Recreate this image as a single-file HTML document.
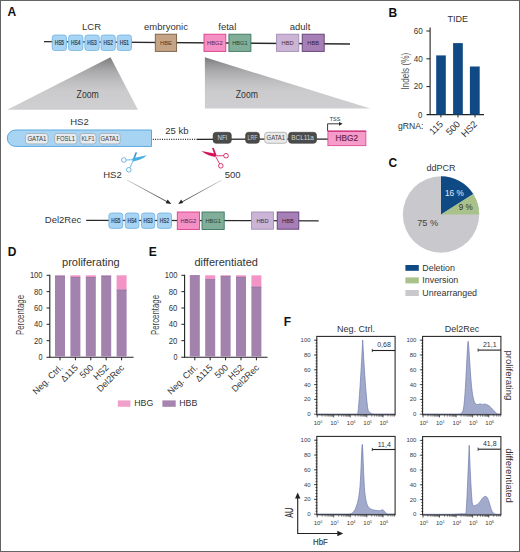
<!DOCTYPE html>
<html><head><meta charset="utf-8">
<style>
html,body{margin:0;padding:0;background:#fff;}
body{width:520px;height:552px;overflow:hidden;}
#fig{position:relative;width:520px;height:552px;background:#fff;}
svg{position:absolute;left:0;top:0;}
text{font-family:"Liberation Sans",sans-serif;fill:#333;}
.lbl{font-weight:bold;font-size:12px;fill:#111;}
.hs{font-size:6.5px;fill:#1c3250;text-anchor:middle;stroke:#1c3250;stroke-width:0.18px;}
.gn{font-size:6.2px;text-anchor:middle;}
.t9{font-size:9.5px;}
.ax{font-size:8.5px;fill:#333;}
.fx{font-size:6px;fill:#3a3a3a;}
</style></head>
<body><div id="fig">
<svg width="520" height="552" viewBox="0 0 520 552">
<defs>
<linearGradient id="tri" x1="0" y1="0" x2="0" y2="1">
<stop offset="0" stop-color="#79797c"/><stop offset="0.1" stop-color="#8f8f92"/><stop offset="0.25" stop-color="#a8a8aa"/><stop offset="0.45" stop-color="#bdbdbf"/><stop offset="0.65" stop-color="#cbcbcd"/><stop offset="1" stop-color="#cfcfd1"/>
</linearGradient>
<linearGradient id="arrL" gradientUnits="userSpaceOnUse" x1="127" y1="180" x2="171" y2="204">
<stop offset="0" stop-color="#d0d0d0"/><stop offset="1" stop-color="#222"/>
</linearGradient>
<linearGradient id="arrR" gradientUnits="userSpaceOnUse" x1="221" y1="180" x2="178" y2="204">
<stop offset="0" stop-color="#d0d0d0"/><stop offset="1" stop-color="#222"/>
</linearGradient>
</defs>

<rect x="0.5" y="0.5" width="519" height="551" fill="none" stroke="#646464" stroke-width="1"/>
<!-- ================= PANEL A ================= -->
<text class="lbl" x="7.5" y="16.2">A</text>
<text class="t9" x="91.5" y="30" text-anchor="middle">LCR</text>
<text class="t9" x="166" y="30" text-anchor="middle">embryonic</text>
<text class="t9" x="227.3" y="30" text-anchor="middle">fetal</text>
<text class="t9" x="300" y="30" text-anchor="middle">adult</text>

<line x1="44" y1="41.6" x2="350" y2="44" stroke="#2a2a2a" stroke-width="1.4"/>
<g stroke="#70b2e2" stroke-width="0.8" fill="#a8d4f4">
<rect x="52.2" y="35" width="14.3" height="15.5" rx="2.5"/>
<rect x="68.6" y="35" width="14.3" height="15.5" rx="2.5"/>
<rect x="84.9" y="35" width="14.3" height="15.5" rx="2.5"/>
<rect x="101" y="35" width="14.3" height="15.5" rx="2.5"/>
<rect x="117.2" y="35" width="14.3" height="15.5" rx="2.5"/>
</g>
<g class="hs">
<text x="59.35" y="45.1" textLength="9.4" lengthAdjust="spacingAndGlyphs">HS5</text><text x="75.75" y="45.1" textLength="9.4" lengthAdjust="spacingAndGlyphs">HS4</text><text x="92.05" y="45.1" textLength="9.4" lengthAdjust="spacingAndGlyphs">HS3</text><text x="108.15" y="45.1" textLength="9.4" lengthAdjust="spacingAndGlyphs">HS2</text><text x="124.35" y="45.1" textLength="9.4" lengthAdjust="spacingAndGlyphs">HS1</text>
</g>
<rect x="155.3" y="34.2" width="21.3" height="17.2" fill="#c5a485" stroke="#7a5d42" stroke-width="0.9"/>
<text class="gn" x="166" y="44.7" style="fill:#4e3b28" textLength="11.8" lengthAdjust="spacingAndGlyphs">HBE</text>
<rect x="204" y="34.2" width="21.8" height="17.2" fill="#f590c4" stroke="#dc3d8a" stroke-width="0.9"/>
<text class="gn" x="214.9" y="44.7" style="fill:#5e2149" textLength="15.6" lengthAdjust="spacingAndGlyphs">HBG2</text>
<rect x="228.9" y="34.2" width="22" height="17.2" fill="#80ae99" stroke="#3d7760" stroke-width="0.9"/>
<text class="gn" x="239.9" y="44.7" style="fill:#263f35" textLength="15.4" lengthAdjust="spacingAndGlyphs">HBG1</text>
<rect x="276.6" y="34.2" width="22.2" height="17.2" fill="#cbb4d6" stroke="#a38db2" stroke-width="0.9"/>
<text class="gn" x="287.7" y="44.7" style="fill:#3f3448" textLength="12.2" lengthAdjust="spacingAndGlyphs">HBD</text>
<rect x="302.2" y="34.2" width="22" height="17.2" fill="#a57fb6" stroke="#5f3d72" stroke-width="0.9"/>
<text class="gn" x="313.2" y="44.7" style="fill:#35203f" textLength="11.8" lengthAdjust="spacingAndGlyphs">HBB</text>

<!-- zoom triangles -->
<polygon points="110.5,57.2 7.2,109.7 137.9,109.7" fill="url(#tri)"/>
<text x="87.7" y="98" text-anchor="middle" style="font-size:10.2px" textLength="22.2" lengthAdjust="spacingAndGlyphs">Zoom</text>
<polygon points="204.9,57.3 204.9,108.6 370.4,108.6" fill="url(#tri)"/>
<text x="246.9" y="98.4" text-anchor="middle" style="font-size:10.2px" textLength="22.2" lengthAdjust="spacingAndGlyphs">Zoom</text>

<!-- HS2 zoom row -->
<text class="t9" x="79.5" y="125" text-anchor="middle">HS2</text>
<path d="M15.5,130 H151.5 V146.4 H15.5 A8.2,8.2 0 0 1 15.5,130 Z" fill="#a8d4f4" stroke="#5ba7de" stroke-width="1"/>
<g fill="#e6ecf1" stroke="#9aa3ab" stroke-width="0.7">
<rect x="25.4" y="133.5" width="22.6" height="10.4" rx="2.6"/>
<rect x="54.6" y="133.5" width="22.3" height="10.4" rx="2.6"/>
<rect x="80" y="133.5" width="16" height="10.4" rx="2.6"/>
<rect x="99.4" y="133.5" width="20.8" height="10.4" rx="2.6"/>
</g>
<g class="gn">
<text x="36.9" y="140.8" style="font-size:6.3px;fill:#3c3c3c" textLength="19" lengthAdjust="spacingAndGlyphs">GATA1</text><text x="65.75" y="140.8" style="font-size:6.3px;fill:#3c3c3c" textLength="18.6" lengthAdjust="spacingAndGlyphs">FOSL1</text><text x="88" y="140.8" style="font-size:6.3px;fill:#3c3c3c" textLength="13" lengthAdjust="spacingAndGlyphs">KLF1</text><text x="109.8" y="140.8" style="font-size:6.3px;fill:#3c3c3c" textLength="18.6" lengthAdjust="spacingAndGlyphs">GATA1</text>
</g>
<text class="t9" x="176.8" y="134.4" text-anchor="middle">25 kb</text>
<line x1="152.8" y1="139.4" x2="196.7" y2="139.4" stroke="#2a2a2a" stroke-width="1.1" stroke-dasharray="1,1.3"/>
<line x1="196.7" y1="139.3" x2="328" y2="139.1" stroke="#222" stroke-width="1.2"/>
<g fill="#4b4b4b" stroke="#3a3a3a" stroke-width="0.6">
<rect x="213.1" y="132.3" width="18.2" height="11" rx="3"/>
<rect x="245.6" y="132.3" width="13.8" height="11" rx="3"/>
<rect x="288.5" y="132.3" width="28" height="11" rx="3"/>
</g>
<rect x="264.6" y="132.3" width="22.5" height="11" rx="3" fill="#e9e9e9" stroke="#a0a0a0" stroke-width="0.7"/>
<g class="gn">
<text x="222.4" y="140.2" style="font-size:6.3px;fill:#d8d8d8" textLength="9.8" lengthAdjust="spacingAndGlyphs">NFI</text><text x="252.5" y="140.2" style="font-size:6.3px;fill:#d8d8d8" textLength="9.8" lengthAdjust="spacingAndGlyphs">LRF</text><text x="302.6" y="140.2" style="font-size:6.3px;fill:#d8d8d8" textLength="22.6" lengthAdjust="spacingAndGlyphs">BCL11a</text>
</g>
<text class="gn" x="275.85" y="140.2" style="font-size:6.3px;fill:#444" textLength="18.6" lengthAdjust="spacingAndGlyphs">GATA1</text>
<!-- TSS -->
<text x="335" y="121.4" text-anchor="middle" style="font-size:5.5px;fill:#333">TSS</text>
<path d="M327.6,131 V123.8 H339.5" fill="none" stroke="#222" stroke-width="0.9"/>
<polygon points="339,121.9 342.6,123.8 339,125.7" fill="#222"/>
<rect x="327.9" y="131" width="38" height="14.7" fill="#f59ccb" stroke="#d9408c" stroke-width="0.8"/>
<line x1="327.9" y1="131.2" x2="365.9" y2="131.2" stroke="#c8206f" stroke-width="1"/>
<text x="346.8" y="140.7" text-anchor="middle" style="font-size:8.6px;fill:#6d2450;stroke:#6d2450;stroke-width:0.2px" textLength="22.4" lengthAdjust="spacingAndGlyphs">HBG2</text>

<!-- scissors blue -->
<g fill="none" stroke="#4aa6d6" stroke-width="0.8">
<circle cx="123.8" cy="160" r="2.3"/>
<circle cx="128.8" cy="169.8" r="2.3"/>
<path d="M126.1,160 L132.6,159.7"/>
<path d="M129.9,167.7 L133.2,160.6"/>
</g>
<path d="M132.6,160 L135.4,152.5 Q136.2,152 137,152.7 L134.2,160.3 Z" fill="#3b98cc"/>
<path d="M132.3,158.6 L134,157.9 L146.9,155.3 C143.5,158.6 138.5,160.6 132.8,161.4 Z" fill="#43aee4"/>
<text class="t9" x="112.5" y="178.4" text-anchor="middle">HS2</text>
<!-- scissors red -->
<g fill="none" stroke="#d3155b" stroke-width="0.85">
<circle cx="226" cy="155.7" r="2.3"/>
<circle cx="220.8" cy="165.8" r="2.3"/>
<path d="M216.2,155.8 L223.7,155.7"/>
<path d="M215.8,156.9 L219.6,163.7"/>
</g>
<path d="M201.3,151.1 L214.6,153.4 L216,155.4 L215.3,157 C211,156.6 206.5,155 201.3,151.1 Z" fill="#d3155b"/>
<path d="M212,148.3 Q212.8,147.4 213.8,148 L216.6,155.6 L215,156.3 Z" fill="#d3155b"/>
<text class="t9" x="232.6" y="178" text-anchor="middle">500</text>
<!-- arrows -->
<line x1="127" y1="180" x2="168.5" y2="202.5" stroke="url(#arrL)" stroke-width="0.9"/>
<polygon points="171.4,204 165.7,203.2 167.6,199.6" fill="#222"/>
<line x1="221.5" y1="180.2" x2="181" y2="202.5" stroke="url(#arrR)" stroke-width="0.9"/>
<polygon points="178.2,204 181.2,199.4 183.1,203" fill="#222"/>

<!-- Del2Rec -->
<text class="t9" x="63" y="223.4" text-anchor="middle">Del2Rec</text>
<line x1="86.2" y1="220.3" x2="318.7" y2="220.8" stroke="#2a2a2a" stroke-width="1.3"/>
<g stroke="#70b2e2" stroke-width="0.8" fill="#a8d4f4">
<rect x="108.9" y="213" width="13.9" height="15.4" rx="2.5"/>
<rect x="125.3" y="213" width="13.6" height="15.4" rx="2.5"/>
<rect x="141.5" y="213" width="13.3" height="15.4" rx="2.5"/>
<rect x="157.4" y="213" width="14.1" height="15.4" rx="2.5"/>
</g>
<g class="hs">
<text x="115.85" y="223.1" textLength="9.2" lengthAdjust="spacingAndGlyphs">HS5</text><text x="132.1" y="223.1" textLength="9.2" lengthAdjust="spacingAndGlyphs">HS4</text><text x="148.15" y="223.1" textLength="9.2" lengthAdjust="spacingAndGlyphs">HS3</text><text x="164.45" y="223.1" textLength="9.2" lengthAdjust="spacingAndGlyphs">HS2</text>
</g>
<rect x="177.3" y="212" width="22.2" height="17.5" fill="#f590c4" stroke="#dc3d8a" stroke-width="0.9"/>
<text class="gn" x="188.4" y="222.7" style="fill:#5e2149" textLength="15.6" lengthAdjust="spacingAndGlyphs">HBG2</text>
<rect x="202" y="212" width="22.2" height="17.5" fill="#80ae99" stroke="#3d7760" stroke-width="0.9"/>
<text class="gn" x="213.1" y="222.7" style="fill:#263f35" textLength="15.4" lengthAdjust="spacingAndGlyphs">HBG1</text>
<rect x="251.6" y="212" width="21.8" height="17.2" fill="#cbb4d6" stroke="#a38db2" stroke-width="0.9"/>
<text class="gn" x="262.5" y="222.7" style="fill:#3f3448" textLength="12.2" lengthAdjust="spacingAndGlyphs">HBD</text>
<rect x="277.2" y="212" width="21.6" height="17.2" fill="#a57fb6" stroke="#5f3d72" stroke-width="0.9"/>
<text class="gn" x="288" y="222.7" style="fill:#35203f" textLength="11.8" lengthAdjust="spacingAndGlyphs">HBB</text>

<!-- ================= PANEL B ================= -->
<text class="lbl" x="388.4" y="17">B</text>
<text x="457.8" y="22.3" text-anchor="middle" style="font-size:9px">TIDE</text>
<line x1="430.1" y1="27.6" x2="430.1" y2="115" stroke="#222" stroke-width="1.1"/>
<line x1="426.6" y1="114.6" x2="484" y2="114.6" stroke="#222" stroke-width="1.1"/>
<g stroke="#222" stroke-width="1">
<line x1="426.4" y1="31" x2="430" y2="31"/><line x1="426.4" y1="58.8" x2="430" y2="58.8"/><line x1="426.4" y1="86.6" x2="430" y2="86.6"/>
<line x1="440.9" y1="114.6" x2="440.9" y2="117.4"/><line x1="458" y1="114.6" x2="458" y2="117.4"/><line x1="475" y1="114.6" x2="475" y2="117.4"/>
</g>
<g class="ax" text-anchor="end" style="font-size:9.6px">
<text x="422.8" y="33.8" textLength="9" lengthAdjust="spacingAndGlyphs">60</text><text x="422.8" y="61.6" textLength="9" lengthAdjust="spacingAndGlyphs">40</text><text x="422.8" y="89.4" textLength="9" lengthAdjust="spacingAndGlyphs">20</text><text x="422.5" y="117.9" textLength="4.4" lengthAdjust="spacingAndGlyphs">0</text>
</g>
<g fill="#0f4a84">
<rect x="436.2" y="55.4" width="9.6" height="59.2"/>
<rect x="453.1" y="43.1" width="9.7" height="71.5"/>
<rect x="469.9" y="66.5" width="9.8" height="48.1"/>
</g>
<text transform="translate(408.6,71.2) rotate(-90)" text-anchor="middle" style="font-size:10.4px;fill:#555" textLength="37" lengthAdjust="spacingAndGlyphs">Indels (%)</text>
<text class="ax" x="398" y="128.8" style="font-size:8.6px">gRNA:</text>
<g class="ax" text-anchor="end" style="font-size:9.4px">
<text transform="translate(443.6,124.8) rotate(-45)">115</text>
<text transform="translate(460.8,124.8) rotate(-45)">500</text>
<text transform="translate(477.8,124.8) rotate(-45)">HS2</text>
</g>

<!-- ================= PANEL C ================= -->
<text class="lbl" x="388.5" y="166.7">C</text>
<text x="441" y="170.9" text-anchor="middle" style="font-size:9px">ddPCR</text>
<circle cx="441" cy="214.5" r="38.2" fill="#c9c8cd"/>
<path d="M441,214.5 V176.3 A38.2,38.2 0 0 1 473.3,194.1 Z" fill="#0f4a84"/>
<path d="M441,214.5 L473.3,194.1 A38.2,38.2 0 0 1 479.2,214.5 Z" fill="#a9c28b"/>
<text x="454.4" y="195.8" text-anchor="middle" style="font-size:9.4px;fill:#e6edf5" textLength="18.8" lengthAdjust="spacingAndGlyphs">16 %</text>
<text x="465.7" y="209.6" text-anchor="middle" style="font-size:9.2px;fill:#35331c" textLength="13.9" lengthAdjust="spacingAndGlyphs">9 %</text>
<text x="427.7" y="225.7" text-anchor="middle" style="font-size:9.2px;fill:#444">75 %</text>
<rect x="405.4" y="265" width="13.4" height="5.8" fill="#0f4a84"/>
<rect x="405.4" y="277.4" width="13.4" height="6" fill="#a9c28b"/>
<rect x="405.4" y="290" width="13.4" height="6" fill="#c9c8cd"/>
<g style="font-size:8.9px">
<text x="422.3" y="270.5">Deletion</text>
<text x="422.3" y="283.2">Inversion</text>
<text x="422.3" y="295.8">Unrearranged</text>
</g>

<!-- ================= PANEL D/E ================= -->
<g id="DE">
<text class="lbl" x="7.8" y="255.6">D</text>
<text x="62.0" y="266" style="font-size:10.6px" textLength="57.7" lengthAdjust="spacingAndGlyphs">proliferating</text>
<line x1="49.80" y1="274.8" x2="49.80" y2="357.6" stroke="#222" stroke-width="1.1"/>
<line x1="46.50" y1="357.2" x2="133.60" y2="357.2" stroke="#222" stroke-width="1.1"/>
<line x1="46.60" y1="275.30" x2="49.80" y2="275.30" stroke="#222" stroke-width="1"/>
<line x1="46.60" y1="291.64" x2="49.80" y2="291.64" stroke="#222" stroke-width="1"/>
<line x1="46.60" y1="307.98" x2="49.80" y2="307.98" stroke="#222" stroke-width="1"/>
<line x1="46.60" y1="324.32" x2="49.80" y2="324.32" stroke="#222" stroke-width="1"/>
<line x1="46.60" y1="340.66" x2="49.80" y2="340.66" stroke="#222" stroke-width="1"/>
<text x="42.60" y="278.40" text-anchor="end" style="font-size:8.8px;fill:#333" textLength="12.7" lengthAdjust="spacingAndGlyphs">100</text>
<text x="42.60" y="294.74" text-anchor="end" style="font-size:8.8px;fill:#333" textLength="8.6" lengthAdjust="spacingAndGlyphs">80</text>
<text x="42.60" y="311.08" text-anchor="end" style="font-size:8.8px;fill:#333" textLength="8.6" lengthAdjust="spacingAndGlyphs">60</text>
<text x="42.60" y="327.42" text-anchor="end" style="font-size:8.8px;fill:#333" textLength="8.6" lengthAdjust="spacingAndGlyphs">40</text>
<text x="42.60" y="343.76" text-anchor="end" style="font-size:8.8px;fill:#333" textLength="8.6" lengthAdjust="spacingAndGlyphs">20</text>
<text x="42.60" y="360.10" text-anchor="end" style="font-size:8.8px;fill:#333" textLength="4.0" lengthAdjust="spacingAndGlyphs">0</text>
<line x1="60.00" y1="357.2" x2="60.00" y2="360.3" stroke="#222" stroke-width="1"/>
<rect x="55.00" y="275.30" width="10" height="0.49" fill="#f394c6"/>
<rect x="55.00" y="275.79" width="10" height="80.81" fill="#a482ae"/>
<line x1="55.00" y1="276.09" x2="65.00" y2="276.09" stroke="#8e6c9a" stroke-width="0.6"/>
<text transform="translate(63.20,368.2) rotate(-45)" text-anchor="end" style="font-size:9px;fill:#333">Neg. Ctrl.</text>
<line x1="75.40" y1="357.2" x2="75.40" y2="360.3" stroke="#222" stroke-width="1"/>
<rect x="70.40" y="275.30" width="10" height="1.80" fill="#f394c6"/>
<rect x="70.40" y="277.10" width="10" height="79.50" fill="#a482ae"/>
<line x1="70.40" y1="277.40" x2="80.40" y2="277.40" stroke="#8e6c9a" stroke-width="0.6"/>
<text transform="translate(78.60,368.2) rotate(-45)" text-anchor="end" style="font-size:9px;fill:#333">Δ115</text>
<line x1="90.80" y1="357.2" x2="90.80" y2="360.3" stroke="#222" stroke-width="1"/>
<rect x="85.80" y="275.30" width="10" height="1.80" fill="#f394c6"/>
<rect x="85.80" y="277.10" width="10" height="79.50" fill="#a482ae"/>
<line x1="85.80" y1="277.40" x2="95.80" y2="277.40" stroke="#8e6c9a" stroke-width="0.6"/>
<text transform="translate(94.00,368.2) rotate(-45)" text-anchor="end" style="font-size:9px;fill:#333">500</text>
<line x1="106.20" y1="357.2" x2="106.20" y2="360.3" stroke="#222" stroke-width="1"/>
<rect x="101.20" y="275.30" width="10" height="0.49" fill="#f394c6"/>
<rect x="101.20" y="275.79" width="10" height="80.81" fill="#a482ae"/>
<line x1="101.20" y1="276.09" x2="111.20" y2="276.09" stroke="#8e6c9a" stroke-width="0.6"/>
<text transform="translate(109.40,368.2) rotate(-45)" text-anchor="end" style="font-size:9px;fill:#333">HS2</text>
<line x1="121.60" y1="357.2" x2="121.60" y2="360.3" stroke="#222" stroke-width="1"/>
<rect x="116.60" y="275.30" width="10" height="14.38" fill="#f394c6"/>
<rect x="116.60" y="289.68" width="10" height="66.92" fill="#a482ae"/>
<line x1="116.60" y1="289.98" x2="126.60" y2="289.98" stroke="#8e6c9a" stroke-width="0.6"/>
<text transform="translate(124.80,368.2) rotate(-45)" text-anchor="end" style="font-size:9px;fill:#333">Del2Rec</text>
<text transform="translate(23.60,315) rotate(-90)" text-anchor="middle" style="font-size:10.6px;fill:#444" textLength="40" lengthAdjust="spacingAndGlyphs">Percentage</text>
<text class="lbl" x="148.8" y="255.6">E</text>
<text x="194.4" y="266" style="font-size:10.6px" textLength="63.5" lengthAdjust="spacingAndGlyphs">differentiated</text>
<line x1="184.60" y1="274.8" x2="184.60" y2="357.6" stroke="#222" stroke-width="1.1"/>
<line x1="181.30" y1="357.2" x2="267.50" y2="357.2" stroke="#222" stroke-width="1.1"/>
<line x1="181.40" y1="275.30" x2="184.60" y2="275.30" stroke="#222" stroke-width="1"/>
<line x1="181.40" y1="291.64" x2="184.60" y2="291.64" stroke="#222" stroke-width="1"/>
<line x1="181.40" y1="307.98" x2="184.60" y2="307.98" stroke="#222" stroke-width="1"/>
<line x1="181.40" y1="324.32" x2="184.60" y2="324.32" stroke="#222" stroke-width="1"/>
<line x1="181.40" y1="340.66" x2="184.60" y2="340.66" stroke="#222" stroke-width="1"/>
<text x="177.40" y="278.40" text-anchor="end" style="font-size:8.8px;fill:#333" textLength="12.7" lengthAdjust="spacingAndGlyphs">100</text>
<text x="177.40" y="294.74" text-anchor="end" style="font-size:8.8px;fill:#333" textLength="8.6" lengthAdjust="spacingAndGlyphs">80</text>
<text x="177.40" y="311.08" text-anchor="end" style="font-size:8.8px;fill:#333" textLength="8.6" lengthAdjust="spacingAndGlyphs">60</text>
<text x="177.40" y="327.42" text-anchor="end" style="font-size:8.8px;fill:#333" textLength="8.6" lengthAdjust="spacingAndGlyphs">40</text>
<text x="177.40" y="343.76" text-anchor="end" style="font-size:8.8px;fill:#333" textLength="8.6" lengthAdjust="spacingAndGlyphs">20</text>
<text x="177.40" y="360.10" text-anchor="end" style="font-size:8.8px;fill:#333" textLength="4.0" lengthAdjust="spacingAndGlyphs">0</text>
<line x1="194.80" y1="357.2" x2="194.80" y2="360.3" stroke="#222" stroke-width="1"/>
<rect x="189.80" y="275.30" width="10" height="81.30" fill="#a482ae"/>
<line x1="189.80" y1="275.60" x2="199.80" y2="275.60" stroke="#8e6c9a" stroke-width="0.6"/>
<text transform="translate(198.00,368.2) rotate(-45)" text-anchor="end" style="font-size:9px;fill:#333">Neg. Ctrl.</text>
<line x1="210.20" y1="357.2" x2="210.20" y2="360.3" stroke="#222" stroke-width="1"/>
<rect x="205.20" y="275.30" width="10" height="3.92" fill="#f394c6"/>
<rect x="205.20" y="279.22" width="10" height="77.38" fill="#a482ae"/>
<line x1="205.20" y1="279.52" x2="215.20" y2="279.52" stroke="#8e6c9a" stroke-width="0.6"/>
<text transform="translate(213.40,368.2) rotate(-45)" text-anchor="end" style="font-size:9px;fill:#333">Δ115</text>
<line x1="225.60" y1="357.2" x2="225.60" y2="360.3" stroke="#222" stroke-width="1"/>
<rect x="220.60" y="275.30" width="10" height="0.82" fill="#f394c6"/>
<rect x="220.60" y="276.12" width="10" height="80.48" fill="#a482ae"/>
<line x1="220.60" y1="276.42" x2="230.60" y2="276.42" stroke="#8e6c9a" stroke-width="0.6"/>
<text transform="translate(228.80,368.2) rotate(-45)" text-anchor="end" style="font-size:9px;fill:#333">500</text>
<line x1="241.00" y1="357.2" x2="241.00" y2="360.3" stroke="#222" stroke-width="1"/>
<rect x="236.00" y="275.30" width="10" height="1.63" fill="#f394c6"/>
<rect x="236.00" y="276.93" width="10" height="79.67" fill="#a482ae"/>
<line x1="236.00" y1="277.23" x2="246.00" y2="277.23" stroke="#8e6c9a" stroke-width="0.6"/>
<text transform="translate(244.20,368.2) rotate(-45)" text-anchor="end" style="font-size:9px;fill:#333">HS2</text>
<line x1="256.40" y1="357.2" x2="256.40" y2="360.3" stroke="#222" stroke-width="1"/>
<rect x="251.40" y="275.30" width="10" height="11.44" fill="#f394c6"/>
<rect x="251.40" y="286.74" width="10" height="69.86" fill="#a482ae"/>
<line x1="251.40" y1="287.04" x2="261.40" y2="287.04" stroke="#8e6c9a" stroke-width="0.6"/>
<text transform="translate(259.60,368.2) rotate(-45)" text-anchor="end" style="font-size:9px;fill:#333">Del2Rec</text>
<text transform="translate(158.60,315) rotate(-90)" text-anchor="middle" style="font-size:10.6px;fill:#444" textLength="40" lengthAdjust="spacingAndGlyphs">Percentage</text>
<rect x="117.8" y="400.4" width="12.6" height="6.4" fill="#f0a0c9"/>
<text x="134.2" y="406.4" style="font-size:8.8px">HBG</text>
<rect x="162.4" y="400.4" width="13.3" height="6.4" fill="#a584b0"/>
<text x="179.2" y="406.4" style="font-size:8.8px">HBB</text>
</g>
<!-- ================= PANEL F ================= -->
<text class="lbl" x="283.8" y="326">F</text>
<text x="356" y="331.5" text-anchor="middle" style="font-size:9px">Neg. Ctrl.</text>
<text x="462" y="331.5" text-anchor="middle" style="font-size:9px">Del2Rec</text>

<g id="plots">
<path d="M316.80,414.20 L316.80,414.20 L317.20,414.20 L317.60,414.20 L318.00,414.20 L318.40,414.20 L318.80,414.20 L319.20,414.20 L319.60,414.20 L320.00,414.20 L320.40,414.20 L320.80,414.20 L321.20,414.20 L321.60,414.20 L322.00,414.20 L322.40,414.20 L322.80,414.20 L323.20,414.20 L323.60,414.20 L324.00,414.20 L324.40,414.20 L324.80,414.20 L325.20,414.20 L325.60,414.20 L326.00,414.20 L326.40,414.20 L326.80,414.20 L327.20,414.20 L327.60,414.20 L328.00,414.20 L328.40,414.20 L328.80,414.20 L329.20,414.20 L329.60,414.20 L330.00,414.20 L330.40,414.20 L330.80,414.20 L331.20,414.20 L331.60,414.20 L332.00,414.20 L332.40,414.20 L332.80,414.20 L333.20,414.20 L333.60,414.20 L334.00,414.20 L334.40,414.20 L334.80,414.20 L335.20,414.20 L335.60,414.20 L336.00,414.20 L336.40,414.20 L336.80,414.20 L337.20,414.20 L337.60,414.20 L338.00,414.20 L338.40,414.20 L338.80,414.20 L339.20,414.20 L339.60,414.20 L340.00,414.20 L340.40,414.20 L340.80,414.20 L341.20,414.20 L341.60,414.20 L342.00,414.20 L342.40,414.20 L342.80,414.20 L343.20,414.20 L343.60,414.20 L344.00,414.20 L344.40,414.20 L344.80,414.20 L345.20,414.20 L345.60,414.20 L346.00,414.20 L346.40,414.20 L346.80,414.20 L347.20,414.20 L347.60,414.20 L348.00,414.20 L348.40,414.20 L348.80,414.20 L349.20,414.20 L349.60,414.20 L350.00,414.20 L350.40,414.20 L350.80,414.20 L351.20,414.20 L351.60,414.20 L352.00,414.20 L352.40,414.20 L352.80,414.20 L353.20,414.20 L353.60,414.20 L354.00,414.20 L354.40,414.20 L354.80,414.20 L355.20,414.20 L355.60,414.20 L356.00,414.20 L356.40,414.20 L356.80,414.20 L357.20,414.20 L357.60,414.20 L358.00,412.30 L358.40,408.48 L358.80,403.91 L359.20,398.80 L359.60,393.26 L360.00,387.36 L360.40,381.13 L360.80,374.61 L361.20,367.82 L361.60,360.77 L362.00,353.47 L362.40,345.93 L362.70,340.12 L362.80,342.03 L363.20,349.48 L363.60,356.56 L364.00,363.27 L364.40,369.61 L364.80,375.57 L365.20,381.19 L365.60,386.46 L366.00,391.40 L366.40,396.02 L366.80,400.29 L367.20,404.13 L367.60,407.42 L368.00,409.96 L368.40,411.14 L368.80,411.45 L369.20,411.78 L369.60,412.13 L370.00,412.47 L370.40,412.78 L370.80,413.07 L371.20,413.32 L371.60,413.53 L372.00,413.70 L372.40,413.84 L372.80,413.94 L373.20,414.02 L373.60,414.08 L374.00,414.12 L374.40,414.15 L374.80,414.20 L375.20,414.20 L375.60,414.20 L376.00,414.20 L376.40,414.20 L376.80,414.20 L377.20,414.20 L377.60,414.20 L378.00,414.20 L378.40,414.20 L378.80,414.20 L379.20,414.20 L379.60,414.20 L380.00,414.20 L380.40,414.20 L380.80,414.20 L381.20,414.20 L381.60,414.20 L382.00,414.20 L382.40,414.20 L382.80,414.20 L383.20,414.20 L383.60,414.20 L384.00,414.20 L384.40,414.20 L384.80,414.20 L385.20,414.20 L385.60,414.20 L386.00,414.20 L386.40,414.20 L386.80,414.20 L387.20,414.20 L387.60,414.20 L388.00,414.20 L388.40,414.20 L388.80,414.20 L389.20,414.20 L389.60,414.20 L390.00,414.20 L390.40,414.20 L390.80,414.20 L391.20,414.20 L391.60,414.20 L392.00,414.20 L392.40,414.20 L392.80,414.20 L393.20,414.20 L393.60,414.20 L394.00,414.20 L394.40,414.20 L394.80,414.20 L395.10,414.20 Z" fill="#a2aacb" stroke="#6f7aae" stroke-width="0.7"/>
<rect x="316.80" y="336.40" width="78.30" height="78.40" fill="none" stroke="#222" stroke-width="1.05"/>
<line x1="314.00" y1="414.20" x2="316.80" y2="414.20" stroke="#333" stroke-width="0.8"/>
<text class="fx" x="310.60" y="416.20" text-anchor="end">0</text>
<line x1="314.00" y1="399.40" x2="316.80" y2="399.40" stroke="#333" stroke-width="0.8"/>
<text class="fx" x="310.60" y="401.40" text-anchor="end">20</text>
<line x1="314.00" y1="384.60" x2="316.80" y2="384.60" stroke="#333" stroke-width="0.8"/>
<text class="fx" x="310.60" y="386.60" text-anchor="end">40</text>
<line x1="314.00" y1="369.80" x2="316.80" y2="369.80" stroke="#333" stroke-width="0.8"/>
<text class="fx" x="310.60" y="371.80" text-anchor="end">60</text>
<line x1="314.00" y1="355.00" x2="316.80" y2="355.00" stroke="#333" stroke-width="0.8"/>
<text class="fx" x="310.60" y="357.00" text-anchor="end">80</text>
<line x1="314.00" y1="340.20" x2="316.80" y2="340.20" stroke="#333" stroke-width="0.8"/>
<text class="fx" x="310.60" y="342.20" text-anchor="end">100</text>
<line x1="315.50" y1="411.24" x2="317.30" y2="411.24" stroke="#222" stroke-width="0.8"/>
<line x1="315.50" y1="408.28" x2="317.30" y2="408.28" stroke="#222" stroke-width="0.8"/>
<line x1="315.50" y1="405.32" x2="317.30" y2="405.32" stroke="#222" stroke-width="0.8"/>
<line x1="315.50" y1="402.36" x2="317.30" y2="402.36" stroke="#222" stroke-width="0.8"/>
<line x1="315.50" y1="399.40" x2="317.30" y2="399.40" stroke="#222" stroke-width="0.8"/>
<line x1="315.50" y1="396.44" x2="317.30" y2="396.44" stroke="#222" stroke-width="0.8"/>
<line x1="315.50" y1="393.48" x2="317.30" y2="393.48" stroke="#222" stroke-width="0.8"/>
<line x1="315.50" y1="390.52" x2="317.30" y2="390.52" stroke="#222" stroke-width="0.8"/>
<line x1="315.50" y1="387.56" x2="317.30" y2="387.56" stroke="#222" stroke-width="0.8"/>
<line x1="315.50" y1="384.60" x2="317.30" y2="384.60" stroke="#222" stroke-width="0.8"/>
<line x1="315.50" y1="381.64" x2="317.30" y2="381.64" stroke="#222" stroke-width="0.8"/>
<line x1="315.50" y1="378.68" x2="317.30" y2="378.68" stroke="#222" stroke-width="0.8"/>
<line x1="315.50" y1="375.72" x2="317.30" y2="375.72" stroke="#222" stroke-width="0.8"/>
<line x1="315.50" y1="372.76" x2="317.30" y2="372.76" stroke="#222" stroke-width="0.8"/>
<line x1="315.50" y1="369.80" x2="317.30" y2="369.80" stroke="#222" stroke-width="0.8"/>
<line x1="315.50" y1="366.84" x2="317.30" y2="366.84" stroke="#222" stroke-width="0.8"/>
<line x1="315.50" y1="363.88" x2="317.30" y2="363.88" stroke="#222" stroke-width="0.8"/>
<line x1="315.50" y1="360.92" x2="317.30" y2="360.92" stroke="#222" stroke-width="0.8"/>
<line x1="315.50" y1="357.96" x2="317.30" y2="357.96" stroke="#222" stroke-width="0.8"/>
<line x1="315.50" y1="355.00" x2="317.30" y2="355.00" stroke="#222" stroke-width="0.8"/>
<line x1="315.50" y1="352.04" x2="317.30" y2="352.04" stroke="#222" stroke-width="0.8"/>
<line x1="315.50" y1="349.08" x2="317.30" y2="349.08" stroke="#222" stroke-width="0.8"/>
<line x1="315.50" y1="346.12" x2="317.30" y2="346.12" stroke="#222" stroke-width="0.8"/>
<line x1="315.50" y1="343.16" x2="317.30" y2="343.16" stroke="#222" stroke-width="0.8"/>
<line x1="315.50" y1="340.20" x2="317.30" y2="340.20" stroke="#222" stroke-width="0.8"/>
<line x1="317.20" y1="414.80" x2="317.20" y2="417.40" stroke="#333" stroke-width="0.8"/>
<text class="fx" x="318.00" y="425.00" text-anchor="middle">10<tspan dy="-2" style="font-size:3.4px">0</tspan></text>
<line x1="333.70" y1="414.80" x2="333.70" y2="417.40" stroke="#333" stroke-width="0.8"/>
<text class="fx" x="334.50" y="425.00" text-anchor="middle">10<tspan dy="-2" style="font-size:3.4px">1</tspan></text>
<line x1="350.30" y1="414.80" x2="350.30" y2="417.40" stroke="#333" stroke-width="0.8"/>
<text class="fx" x="351.10" y="425.00" text-anchor="middle">10<tspan dy="-2" style="font-size:3.4px">4</tspan></text>
<line x1="366.80" y1="414.80" x2="366.80" y2="417.40" stroke="#333" stroke-width="0.8"/>
<text class="fx" x="367.60" y="425.00" text-anchor="middle">10<tspan dy="-2" style="font-size:3.4px">5</tspan></text>
<line x1="383.00" y1="414.80" x2="383.00" y2="417.40" stroke="#333" stroke-width="0.8"/>
<text class="fx" x="383.80" y="425.00" text-anchor="middle">10<tspan dy="-2" style="font-size:3.4px">6</tspan></text>
<line x1="322.17" y1="414.80" x2="322.17" y2="416.70" stroke="#333" stroke-width="0.55"/>
<line x1="325.07" y1="414.80" x2="325.07" y2="416.70" stroke="#333" stroke-width="0.55"/>
<line x1="327.13" y1="414.80" x2="327.13" y2="416.70" stroke="#333" stroke-width="0.55"/>
<line x1="328.73" y1="414.80" x2="328.73" y2="416.70" stroke="#333" stroke-width="0.55"/>
<line x1="330.04" y1="414.80" x2="330.04" y2="416.70" stroke="#333" stroke-width="0.55"/>
<line x1="331.14" y1="414.80" x2="331.14" y2="416.70" stroke="#333" stroke-width="0.55"/>
<line x1="332.10" y1="414.80" x2="332.10" y2="416.70" stroke="#333" stroke-width="0.55"/>
<line x1="332.95" y1="414.80" x2="332.95" y2="416.70" stroke="#333" stroke-width="0.55"/>
<line x1="338.67" y1="414.80" x2="338.67" y2="416.70" stroke="#333" stroke-width="0.55"/>
<line x1="341.57" y1="414.80" x2="341.57" y2="416.70" stroke="#333" stroke-width="0.55"/>
<line x1="343.63" y1="414.80" x2="343.63" y2="416.70" stroke="#333" stroke-width="0.55"/>
<line x1="345.23" y1="414.80" x2="345.23" y2="416.70" stroke="#333" stroke-width="0.55"/>
<line x1="346.54" y1="414.80" x2="346.54" y2="416.70" stroke="#333" stroke-width="0.55"/>
<line x1="347.64" y1="414.80" x2="347.64" y2="416.70" stroke="#333" stroke-width="0.55"/>
<line x1="348.60" y1="414.80" x2="348.60" y2="416.70" stroke="#333" stroke-width="0.55"/>
<line x1="349.45" y1="414.80" x2="349.45" y2="416.70" stroke="#333" stroke-width="0.55"/>
<line x1="355.27" y1="414.80" x2="355.27" y2="416.70" stroke="#333" stroke-width="0.55"/>
<line x1="358.17" y1="414.80" x2="358.17" y2="416.70" stroke="#333" stroke-width="0.55"/>
<line x1="360.23" y1="414.80" x2="360.23" y2="416.70" stroke="#333" stroke-width="0.55"/>
<line x1="361.83" y1="414.80" x2="361.83" y2="416.70" stroke="#333" stroke-width="0.55"/>
<line x1="363.14" y1="414.80" x2="363.14" y2="416.70" stroke="#333" stroke-width="0.55"/>
<line x1="364.24" y1="414.80" x2="364.24" y2="416.70" stroke="#333" stroke-width="0.55"/>
<line x1="365.20" y1="414.80" x2="365.20" y2="416.70" stroke="#333" stroke-width="0.55"/>
<line x1="366.05" y1="414.80" x2="366.05" y2="416.70" stroke="#333" stroke-width="0.55"/>
<line x1="371.77" y1="414.80" x2="371.77" y2="416.70" stroke="#333" stroke-width="0.55"/>
<line x1="374.67" y1="414.80" x2="374.67" y2="416.70" stroke="#333" stroke-width="0.55"/>
<line x1="376.73" y1="414.80" x2="376.73" y2="416.70" stroke="#333" stroke-width="0.55"/>
<line x1="378.33" y1="414.80" x2="378.33" y2="416.70" stroke="#333" stroke-width="0.55"/>
<line x1="379.64" y1="414.80" x2="379.64" y2="416.70" stroke="#333" stroke-width="0.55"/>
<line x1="380.74" y1="414.80" x2="380.74" y2="416.70" stroke="#333" stroke-width="0.55"/>
<line x1="381.70" y1="414.80" x2="381.70" y2="416.70" stroke="#333" stroke-width="0.55"/>
<line x1="382.55" y1="414.80" x2="382.55" y2="416.70" stroke="#333" stroke-width="0.55"/>
<line x1="387.97" y1="414.80" x2="387.97" y2="416.70" stroke="#333" stroke-width="0.55"/>
<line x1="390.87" y1="414.80" x2="390.87" y2="416.70" stroke="#333" stroke-width="0.55"/>
<line x1="392.93" y1="414.80" x2="392.93" y2="416.70" stroke="#333" stroke-width="0.55"/>
<line x1="394.53" y1="414.80" x2="394.53" y2="416.70" stroke="#333" stroke-width="0.55"/>
<line x1="372.30" y1="350.50" x2="395.10" y2="350.50" stroke="#222" stroke-width="1.1"/>
<line x1="372.30" y1="348.90" x2="372.30" y2="352.10" stroke="#222" stroke-width="0.8"/>
<text x="390.80" y="346.50" text-anchor="end" style="font-size:7px">0,68</text>
<path d="M422.60,414.20 L422.60,414.20 L423.00,414.20 L423.40,414.20 L423.80,414.20 L424.20,414.20 L424.60,414.20 L425.00,414.20 L425.40,414.20 L425.80,414.20 L426.20,414.20 L426.60,414.20 L427.00,414.20 L427.40,414.20 L427.80,414.20 L428.20,414.20 L428.60,414.20 L429.00,414.20 L429.40,414.20 L429.80,414.20 L430.20,414.20 L430.60,414.20 L431.00,414.20 L431.40,414.20 L431.80,414.20 L432.20,414.20 L432.60,414.20 L433.00,414.20 L433.40,414.20 L433.80,414.20 L434.20,414.20 L434.60,414.20 L435.00,414.20 L435.40,414.20 L435.80,414.20 L436.20,414.20 L436.60,414.20 L437.00,414.20 L437.40,414.20 L437.80,414.20 L438.20,414.20 L438.60,414.20 L439.00,414.20 L439.40,414.20 L439.80,414.20 L440.20,414.20 L440.60,414.20 L441.00,414.20 L441.40,414.20 L441.80,414.20 L442.20,414.20 L442.60,414.20 L443.00,414.20 L443.40,414.20 L443.80,414.20 L444.20,414.20 L444.60,414.20 L445.00,414.20 L445.40,414.20 L445.80,414.20 L446.20,414.20 L446.60,414.20 L447.00,414.20 L447.40,414.20 L447.80,414.20 L448.20,414.20 L448.60,414.20 L449.00,414.20 L449.40,414.20 L449.80,414.20 L450.20,414.20 L450.60,414.20 L451.00,414.20 L451.40,414.20 L451.80,414.20 L452.20,414.20 L452.60,414.20 L453.00,414.20 L453.40,414.20 L453.80,414.20 L454.20,414.20 L454.60,414.20 L455.00,414.20 L455.40,414.20 L455.80,414.20 L456.20,414.20 L456.60,414.20 L457.00,414.20 L457.40,414.20 L457.80,414.20 L458.20,414.20 L458.60,414.15 L459.00,414.13 L459.40,414.09 L459.80,414.03 L460.20,413.94 L460.60,413.80 L461.00,413.61 L461.40,413.32 L461.80,412.92 L462.20,412.35 L462.60,411.57 L463.00,410.50 L463.40,408.92 L463.80,406.42 L464.20,402.99 L464.60,398.65 L465.00,393.40 L465.40,387.27 L465.80,380.36 L466.20,372.82 L466.60,364.93 L467.00,357.11 L467.40,349.88 L467.80,343.84 L468.10,341.31 L468.20,341.69 L468.60,345.46 L469.00,350.88 L469.40,357.00 L469.80,363.27 L470.20,369.35 L470.60,375.03 L471.00,380.16 L471.40,384.69 L471.80,388.60 L472.20,391.91 L472.60,394.66 L473.00,396.93 L473.40,398.75 L473.80,400.21 L474.20,401.36 L474.60,402.26 L475.00,402.95 L475.40,403.48 L475.80,403.87 L476.20,404.16 L476.60,404.37 L477.00,404.51 L477.40,404.58 L477.80,404.57 L478.20,404.49 L478.60,404.35 L479.00,404.15 L479.40,403.97 L479.80,403.84 L480.20,403.81 L480.60,403.89 L481.00,404.05 L481.40,404.24 L481.80,404.38 L482.20,404.46 L482.60,404.46 L483.00,404.39 L483.40,404.28 L483.80,404.17 L484.20,404.09 L484.60,404.06 L485.00,404.09 L485.40,404.18 L485.80,404.31 L486.20,404.45 L486.60,404.58 L487.00,404.73 L487.40,404.90 L487.80,405.10 L488.20,405.32 L488.60,405.56 L489.00,405.83 L489.40,406.13 L489.80,406.46 L490.20,406.81 L490.60,407.19 L491.00,407.58 L491.40,407.99 L491.80,408.42 L492.20,408.86 L492.60,409.30 L493.00,409.74 L493.40,410.18 L493.80,410.62 L494.20,411.05 L494.60,411.47 L495.00,411.87 L495.40,412.25 L495.80,412.61 L496.20,412.94 L496.60,413.24 L497.00,413.50 L497.40,413.73 L497.80,413.92 L498.20,414.06 L498.60,414.16 L499.00,414.20 L499.40,414.20 L499.80,414.20 L500.20,414.20 L500.60,414.20 L500.90,414.20 Z" fill="#a2aacb" stroke="#6f7aae" stroke-width="0.7"/>
<rect x="422.60" y="336.40" width="78.30" height="78.40" fill="none" stroke="#222" stroke-width="1.05"/>
<line x1="419.80" y1="414.20" x2="422.60" y2="414.20" stroke="#333" stroke-width="0.8"/>
<text class="fx" x="416.40" y="416.20" text-anchor="end">0</text>
<line x1="419.80" y1="399.40" x2="422.60" y2="399.40" stroke="#333" stroke-width="0.8"/>
<text class="fx" x="416.40" y="401.40" text-anchor="end">20</text>
<line x1="419.80" y1="384.60" x2="422.60" y2="384.60" stroke="#333" stroke-width="0.8"/>
<text class="fx" x="416.40" y="386.60" text-anchor="end">40</text>
<line x1="419.80" y1="369.80" x2="422.60" y2="369.80" stroke="#333" stroke-width="0.8"/>
<text class="fx" x="416.40" y="371.80" text-anchor="end">60</text>
<line x1="419.80" y1="355.00" x2="422.60" y2="355.00" stroke="#333" stroke-width="0.8"/>
<text class="fx" x="416.40" y="357.00" text-anchor="end">80</text>
<line x1="419.80" y1="340.20" x2="422.60" y2="340.20" stroke="#333" stroke-width="0.8"/>
<text class="fx" x="416.40" y="342.20" text-anchor="end">100</text>
<line x1="421.30" y1="411.24" x2="423.10" y2="411.24" stroke="#222" stroke-width="0.8"/>
<line x1="421.30" y1="408.28" x2="423.10" y2="408.28" stroke="#222" stroke-width="0.8"/>
<line x1="421.30" y1="405.32" x2="423.10" y2="405.32" stroke="#222" stroke-width="0.8"/>
<line x1="421.30" y1="402.36" x2="423.10" y2="402.36" stroke="#222" stroke-width="0.8"/>
<line x1="421.30" y1="399.40" x2="423.10" y2="399.40" stroke="#222" stroke-width="0.8"/>
<line x1="421.30" y1="396.44" x2="423.10" y2="396.44" stroke="#222" stroke-width="0.8"/>
<line x1="421.30" y1="393.48" x2="423.10" y2="393.48" stroke="#222" stroke-width="0.8"/>
<line x1="421.30" y1="390.52" x2="423.10" y2="390.52" stroke="#222" stroke-width="0.8"/>
<line x1="421.30" y1="387.56" x2="423.10" y2="387.56" stroke="#222" stroke-width="0.8"/>
<line x1="421.30" y1="384.60" x2="423.10" y2="384.60" stroke="#222" stroke-width="0.8"/>
<line x1="421.30" y1="381.64" x2="423.10" y2="381.64" stroke="#222" stroke-width="0.8"/>
<line x1="421.30" y1="378.68" x2="423.10" y2="378.68" stroke="#222" stroke-width="0.8"/>
<line x1="421.30" y1="375.72" x2="423.10" y2="375.72" stroke="#222" stroke-width="0.8"/>
<line x1="421.30" y1="372.76" x2="423.10" y2="372.76" stroke="#222" stroke-width="0.8"/>
<line x1="421.30" y1="369.80" x2="423.10" y2="369.80" stroke="#222" stroke-width="0.8"/>
<line x1="421.30" y1="366.84" x2="423.10" y2="366.84" stroke="#222" stroke-width="0.8"/>
<line x1="421.30" y1="363.88" x2="423.10" y2="363.88" stroke="#222" stroke-width="0.8"/>
<line x1="421.30" y1="360.92" x2="423.10" y2="360.92" stroke="#222" stroke-width="0.8"/>
<line x1="421.30" y1="357.96" x2="423.10" y2="357.96" stroke="#222" stroke-width="0.8"/>
<line x1="421.30" y1="355.00" x2="423.10" y2="355.00" stroke="#222" stroke-width="0.8"/>
<line x1="421.30" y1="352.04" x2="423.10" y2="352.04" stroke="#222" stroke-width="0.8"/>
<line x1="421.30" y1="349.08" x2="423.10" y2="349.08" stroke="#222" stroke-width="0.8"/>
<line x1="421.30" y1="346.12" x2="423.10" y2="346.12" stroke="#222" stroke-width="0.8"/>
<line x1="421.30" y1="343.16" x2="423.10" y2="343.16" stroke="#222" stroke-width="0.8"/>
<line x1="421.30" y1="340.20" x2="423.10" y2="340.20" stroke="#222" stroke-width="0.8"/>
<line x1="423.00" y1="414.80" x2="423.00" y2="417.40" stroke="#333" stroke-width="0.8"/>
<text class="fx" x="423.80" y="425.00" text-anchor="middle">10<tspan dy="-2" style="font-size:3.4px">0</tspan></text>
<line x1="439.50" y1="414.80" x2="439.50" y2="417.40" stroke="#333" stroke-width="0.8"/>
<text class="fx" x="440.30" y="425.00" text-anchor="middle">10<tspan dy="-2" style="font-size:3.4px">1</tspan></text>
<line x1="456.10" y1="414.80" x2="456.10" y2="417.40" stroke="#333" stroke-width="0.8"/>
<text class="fx" x="456.90" y="425.00" text-anchor="middle">10<tspan dy="-2" style="font-size:3.4px">4</tspan></text>
<line x1="472.60" y1="414.80" x2="472.60" y2="417.40" stroke="#333" stroke-width="0.8"/>
<text class="fx" x="473.40" y="425.00" text-anchor="middle">10<tspan dy="-2" style="font-size:3.4px">5</tspan></text>
<line x1="488.80" y1="414.80" x2="488.80" y2="417.40" stroke="#333" stroke-width="0.8"/>
<text class="fx" x="489.60" y="425.00" text-anchor="middle">10<tspan dy="-2" style="font-size:3.4px">6</tspan></text>
<line x1="427.97" y1="414.80" x2="427.97" y2="416.70" stroke="#333" stroke-width="0.55"/>
<line x1="430.87" y1="414.80" x2="430.87" y2="416.70" stroke="#333" stroke-width="0.55"/>
<line x1="432.93" y1="414.80" x2="432.93" y2="416.70" stroke="#333" stroke-width="0.55"/>
<line x1="434.53" y1="414.80" x2="434.53" y2="416.70" stroke="#333" stroke-width="0.55"/>
<line x1="435.84" y1="414.80" x2="435.84" y2="416.70" stroke="#333" stroke-width="0.55"/>
<line x1="436.94" y1="414.80" x2="436.94" y2="416.70" stroke="#333" stroke-width="0.55"/>
<line x1="437.90" y1="414.80" x2="437.90" y2="416.70" stroke="#333" stroke-width="0.55"/>
<line x1="438.75" y1="414.80" x2="438.75" y2="416.70" stroke="#333" stroke-width="0.55"/>
<line x1="444.47" y1="414.80" x2="444.47" y2="416.70" stroke="#333" stroke-width="0.55"/>
<line x1="447.37" y1="414.80" x2="447.37" y2="416.70" stroke="#333" stroke-width="0.55"/>
<line x1="449.43" y1="414.80" x2="449.43" y2="416.70" stroke="#333" stroke-width="0.55"/>
<line x1="451.03" y1="414.80" x2="451.03" y2="416.70" stroke="#333" stroke-width="0.55"/>
<line x1="452.34" y1="414.80" x2="452.34" y2="416.70" stroke="#333" stroke-width="0.55"/>
<line x1="453.44" y1="414.80" x2="453.44" y2="416.70" stroke="#333" stroke-width="0.55"/>
<line x1="454.40" y1="414.80" x2="454.40" y2="416.70" stroke="#333" stroke-width="0.55"/>
<line x1="455.25" y1="414.80" x2="455.25" y2="416.70" stroke="#333" stroke-width="0.55"/>
<line x1="461.07" y1="414.80" x2="461.07" y2="416.70" stroke="#333" stroke-width="0.55"/>
<line x1="463.97" y1="414.80" x2="463.97" y2="416.70" stroke="#333" stroke-width="0.55"/>
<line x1="466.03" y1="414.80" x2="466.03" y2="416.70" stroke="#333" stroke-width="0.55"/>
<line x1="467.63" y1="414.80" x2="467.63" y2="416.70" stroke="#333" stroke-width="0.55"/>
<line x1="468.94" y1="414.80" x2="468.94" y2="416.70" stroke="#333" stroke-width="0.55"/>
<line x1="470.04" y1="414.80" x2="470.04" y2="416.70" stroke="#333" stroke-width="0.55"/>
<line x1="471.00" y1="414.80" x2="471.00" y2="416.70" stroke="#333" stroke-width="0.55"/>
<line x1="471.85" y1="414.80" x2="471.85" y2="416.70" stroke="#333" stroke-width="0.55"/>
<line x1="477.57" y1="414.80" x2="477.57" y2="416.70" stroke="#333" stroke-width="0.55"/>
<line x1="480.47" y1="414.80" x2="480.47" y2="416.70" stroke="#333" stroke-width="0.55"/>
<line x1="482.53" y1="414.80" x2="482.53" y2="416.70" stroke="#333" stroke-width="0.55"/>
<line x1="484.13" y1="414.80" x2="484.13" y2="416.70" stroke="#333" stroke-width="0.55"/>
<line x1="485.44" y1="414.80" x2="485.44" y2="416.70" stroke="#333" stroke-width="0.55"/>
<line x1="486.54" y1="414.80" x2="486.54" y2="416.70" stroke="#333" stroke-width="0.55"/>
<line x1="487.50" y1="414.80" x2="487.50" y2="416.70" stroke="#333" stroke-width="0.55"/>
<line x1="488.35" y1="414.80" x2="488.35" y2="416.70" stroke="#333" stroke-width="0.55"/>
<line x1="493.77" y1="414.80" x2="493.77" y2="416.70" stroke="#333" stroke-width="0.55"/>
<line x1="496.67" y1="414.80" x2="496.67" y2="416.70" stroke="#333" stroke-width="0.55"/>
<line x1="498.73" y1="414.80" x2="498.73" y2="416.70" stroke="#333" stroke-width="0.55"/>
<line x1="500.33" y1="414.80" x2="500.33" y2="416.70" stroke="#333" stroke-width="0.55"/>
<line x1="478.10" y1="350.10" x2="500.90" y2="350.10" stroke="#222" stroke-width="1.1"/>
<line x1="478.10" y1="348.50" x2="478.10" y2="351.70" stroke="#222" stroke-width="0.8"/>
<text x="496.60" y="346.50" text-anchor="end" style="font-size:7px">21,1</text>
<path d="M316.80,514.20 L316.80,514.20 L317.20,514.20 L317.60,514.20 L318.00,514.20 L318.40,514.20 L318.80,514.20 L319.20,514.20 L319.60,514.20 L320.00,514.20 L320.40,514.20 L320.80,514.20 L321.20,514.20 L321.60,514.20 L322.00,514.20 L322.40,514.20 L322.80,514.20 L323.20,514.20 L323.60,514.20 L324.00,514.20 L324.40,514.20 L324.80,514.20 L325.20,514.20 L325.60,514.20 L326.00,514.20 L326.40,514.20 L326.80,514.20 L327.20,514.20 L327.60,514.20 L328.00,514.20 L328.40,514.20 L328.80,514.20 L329.20,514.20 L329.60,514.20 L330.00,514.20 L330.40,514.20 L330.80,514.20 L331.20,514.20 L331.60,514.20 L332.00,514.20 L332.40,514.20 L332.80,514.20 L333.20,514.20 L333.60,514.20 L334.00,514.20 L334.40,514.20 L334.80,514.20 L335.20,514.20 L335.60,514.20 L336.00,514.20 L336.40,514.20 L336.80,514.20 L337.20,514.20 L337.60,514.20 L338.00,514.20 L338.40,514.20 L338.80,514.20 L339.20,514.20 L339.60,514.20 L340.00,514.20 L340.40,514.20 L340.80,514.20 L341.20,514.20 L341.60,514.20 L342.00,514.20 L342.40,514.20 L342.80,514.20 L343.20,514.20 L343.60,514.20 L344.00,514.20 L344.40,514.20 L344.80,514.20 L345.20,514.20 L345.60,514.20 L346.00,514.20 L346.40,514.20 L346.80,514.20 L347.20,514.20 L347.60,514.20 L348.00,514.20 L348.40,514.14 L348.80,514.10 L349.20,514.06 L349.60,513.99 L350.00,513.92 L350.40,513.82 L350.80,513.70 L351.20,513.55 L351.60,513.37 L352.00,513.15 L352.40,512.89 L352.80,512.57 L353.20,512.19 L353.60,511.74 L354.00,511.22 L354.40,510.61 L354.80,509.92 L355.20,509.13 L355.60,508.24 L356.00,507.25 L356.40,506.15 L356.80,504.95 L357.20,503.63 L357.60,502.19 L358.00,500.59 L358.40,498.77 L358.80,496.60 L359.20,493.96 L359.60,490.63 L360.00,486.32 L360.40,480.65 L360.80,473.24 L361.20,464.01 L361.60,453.98 L362.00,446.20 L362.30,444.37 L362.40,444.76 L362.80,450.83 L363.20,461.15 L363.60,471.68 L364.00,480.47 L364.40,487.18 L364.80,492.14 L365.20,495.77 L365.60,498.46 L366.00,500.50 L366.40,502.12 L366.80,503.49 L367.20,504.65 L367.60,505.57 L368.00,506.32 L368.40,506.94 L368.80,507.45 L369.20,507.87 L369.60,508.22 L370.00,508.52 L370.40,508.78 L370.80,509.00 L371.20,509.20 L371.60,509.37 L372.00,509.51 L372.40,509.64 L372.80,509.76 L373.20,509.87 L373.60,509.96 L374.00,510.04 L374.40,510.12 L374.80,510.19 L375.20,510.25 L375.60,510.31 L376.00,510.36 L376.40,510.41 L376.80,510.46 L377.20,510.50 L377.60,510.54 L378.00,510.57 L378.40,510.60 L378.80,510.62 L379.20,510.64 L379.60,510.63 L380.00,510.60 L380.40,510.52 L380.80,510.39 L381.20,510.22 L381.60,510.02 L382.00,509.84 L382.40,509.76 L382.80,509.83 L383.20,510.04 L383.60,510.38 L384.00,510.81 L384.40,511.27 L384.80,511.71 L385.20,512.16 L385.60,512.61 L386.00,513.01 L386.40,513.35 L386.80,513.63 L387.20,513.85 L387.60,514.00 L388.00,514.09 L388.40,514.15 L388.80,514.20 L389.20,514.20 L389.60,514.20 L390.00,514.20 L390.40,514.20 L390.80,514.20 L391.20,514.20 L391.60,514.20 L392.00,514.20 L392.40,514.20 L392.80,514.20 L393.20,514.20 L393.60,514.20 L394.00,514.20 L394.40,514.20 L394.80,514.20 L395.10,514.20 Z" fill="#a2aacb" stroke="#6f7aae" stroke-width="0.7"/>
<rect x="316.80" y="436.40" width="78.30" height="78.40" fill="none" stroke="#222" stroke-width="1.05"/>
<line x1="314.00" y1="514.20" x2="316.80" y2="514.20" stroke="#333" stroke-width="0.8"/>
<text class="fx" x="310.60" y="516.20" text-anchor="end">0</text>
<line x1="314.00" y1="499.40" x2="316.80" y2="499.40" stroke="#333" stroke-width="0.8"/>
<text class="fx" x="310.60" y="501.40" text-anchor="end">20</text>
<line x1="314.00" y1="484.60" x2="316.80" y2="484.60" stroke="#333" stroke-width="0.8"/>
<text class="fx" x="310.60" y="486.60" text-anchor="end">40</text>
<line x1="314.00" y1="469.80" x2="316.80" y2="469.80" stroke="#333" stroke-width="0.8"/>
<text class="fx" x="310.60" y="471.80" text-anchor="end">60</text>
<line x1="314.00" y1="455.00" x2="316.80" y2="455.00" stroke="#333" stroke-width="0.8"/>
<text class="fx" x="310.60" y="457.00" text-anchor="end">80</text>
<line x1="314.00" y1="440.20" x2="316.80" y2="440.20" stroke="#333" stroke-width="0.8"/>
<text class="fx" x="310.60" y="442.20" text-anchor="end">100</text>
<line x1="315.50" y1="511.24" x2="317.30" y2="511.24" stroke="#222" stroke-width="0.8"/>
<line x1="315.50" y1="508.28" x2="317.30" y2="508.28" stroke="#222" stroke-width="0.8"/>
<line x1="315.50" y1="505.32" x2="317.30" y2="505.32" stroke="#222" stroke-width="0.8"/>
<line x1="315.50" y1="502.36" x2="317.30" y2="502.36" stroke="#222" stroke-width="0.8"/>
<line x1="315.50" y1="499.40" x2="317.30" y2="499.40" stroke="#222" stroke-width="0.8"/>
<line x1="315.50" y1="496.44" x2="317.30" y2="496.44" stroke="#222" stroke-width="0.8"/>
<line x1="315.50" y1="493.48" x2="317.30" y2="493.48" stroke="#222" stroke-width="0.8"/>
<line x1="315.50" y1="490.52" x2="317.30" y2="490.52" stroke="#222" stroke-width="0.8"/>
<line x1="315.50" y1="487.56" x2="317.30" y2="487.56" stroke="#222" stroke-width="0.8"/>
<line x1="315.50" y1="484.60" x2="317.30" y2="484.60" stroke="#222" stroke-width="0.8"/>
<line x1="315.50" y1="481.64" x2="317.30" y2="481.64" stroke="#222" stroke-width="0.8"/>
<line x1="315.50" y1="478.68" x2="317.30" y2="478.68" stroke="#222" stroke-width="0.8"/>
<line x1="315.50" y1="475.72" x2="317.30" y2="475.72" stroke="#222" stroke-width="0.8"/>
<line x1="315.50" y1="472.76" x2="317.30" y2="472.76" stroke="#222" stroke-width="0.8"/>
<line x1="315.50" y1="469.80" x2="317.30" y2="469.80" stroke="#222" stroke-width="0.8"/>
<line x1="315.50" y1="466.84" x2="317.30" y2="466.84" stroke="#222" stroke-width="0.8"/>
<line x1="315.50" y1="463.88" x2="317.30" y2="463.88" stroke="#222" stroke-width="0.8"/>
<line x1="315.50" y1="460.92" x2="317.30" y2="460.92" stroke="#222" stroke-width="0.8"/>
<line x1="315.50" y1="457.96" x2="317.30" y2="457.96" stroke="#222" stroke-width="0.8"/>
<line x1="315.50" y1="455.00" x2="317.30" y2="455.00" stroke="#222" stroke-width="0.8"/>
<line x1="315.50" y1="452.04" x2="317.30" y2="452.04" stroke="#222" stroke-width="0.8"/>
<line x1="315.50" y1="449.08" x2="317.30" y2="449.08" stroke="#222" stroke-width="0.8"/>
<line x1="315.50" y1="446.12" x2="317.30" y2="446.12" stroke="#222" stroke-width="0.8"/>
<line x1="315.50" y1="443.16" x2="317.30" y2="443.16" stroke="#222" stroke-width="0.8"/>
<line x1="315.50" y1="440.20" x2="317.30" y2="440.20" stroke="#222" stroke-width="0.8"/>
<line x1="317.20" y1="514.80" x2="317.20" y2="517.40" stroke="#333" stroke-width="0.8"/>
<text class="fx" x="318.00" y="525.00" text-anchor="middle">10<tspan dy="-2" style="font-size:3.4px">0</tspan></text>
<line x1="333.70" y1="514.80" x2="333.70" y2="517.40" stroke="#333" stroke-width="0.8"/>
<text class="fx" x="334.50" y="525.00" text-anchor="middle">10<tspan dy="-2" style="font-size:3.4px">1</tspan></text>
<line x1="350.30" y1="514.80" x2="350.30" y2="517.40" stroke="#333" stroke-width="0.8"/>
<text class="fx" x="351.10" y="525.00" text-anchor="middle">10<tspan dy="-2" style="font-size:3.4px">4</tspan></text>
<line x1="366.80" y1="514.80" x2="366.80" y2="517.40" stroke="#333" stroke-width="0.8"/>
<text class="fx" x="367.60" y="525.00" text-anchor="middle">10<tspan dy="-2" style="font-size:3.4px">5</tspan></text>
<line x1="383.00" y1="514.80" x2="383.00" y2="517.40" stroke="#333" stroke-width="0.8"/>
<text class="fx" x="383.80" y="525.00" text-anchor="middle">10<tspan dy="-2" style="font-size:3.4px">6</tspan></text>
<line x1="322.17" y1="514.80" x2="322.17" y2="516.70" stroke="#333" stroke-width="0.55"/>
<line x1="325.07" y1="514.80" x2="325.07" y2="516.70" stroke="#333" stroke-width="0.55"/>
<line x1="327.13" y1="514.80" x2="327.13" y2="516.70" stroke="#333" stroke-width="0.55"/>
<line x1="328.73" y1="514.80" x2="328.73" y2="516.70" stroke="#333" stroke-width="0.55"/>
<line x1="330.04" y1="514.80" x2="330.04" y2="516.70" stroke="#333" stroke-width="0.55"/>
<line x1="331.14" y1="514.80" x2="331.14" y2="516.70" stroke="#333" stroke-width="0.55"/>
<line x1="332.10" y1="514.80" x2="332.10" y2="516.70" stroke="#333" stroke-width="0.55"/>
<line x1="332.95" y1="514.80" x2="332.95" y2="516.70" stroke="#333" stroke-width="0.55"/>
<line x1="338.67" y1="514.80" x2="338.67" y2="516.70" stroke="#333" stroke-width="0.55"/>
<line x1="341.57" y1="514.80" x2="341.57" y2="516.70" stroke="#333" stroke-width="0.55"/>
<line x1="343.63" y1="514.80" x2="343.63" y2="516.70" stroke="#333" stroke-width="0.55"/>
<line x1="345.23" y1="514.80" x2="345.23" y2="516.70" stroke="#333" stroke-width="0.55"/>
<line x1="346.54" y1="514.80" x2="346.54" y2="516.70" stroke="#333" stroke-width="0.55"/>
<line x1="347.64" y1="514.80" x2="347.64" y2="516.70" stroke="#333" stroke-width="0.55"/>
<line x1="348.60" y1="514.80" x2="348.60" y2="516.70" stroke="#333" stroke-width="0.55"/>
<line x1="349.45" y1="514.80" x2="349.45" y2="516.70" stroke="#333" stroke-width="0.55"/>
<line x1="355.27" y1="514.80" x2="355.27" y2="516.70" stroke="#333" stroke-width="0.55"/>
<line x1="358.17" y1="514.80" x2="358.17" y2="516.70" stroke="#333" stroke-width="0.55"/>
<line x1="360.23" y1="514.80" x2="360.23" y2="516.70" stroke="#333" stroke-width="0.55"/>
<line x1="361.83" y1="514.80" x2="361.83" y2="516.70" stroke="#333" stroke-width="0.55"/>
<line x1="363.14" y1="514.80" x2="363.14" y2="516.70" stroke="#333" stroke-width="0.55"/>
<line x1="364.24" y1="514.80" x2="364.24" y2="516.70" stroke="#333" stroke-width="0.55"/>
<line x1="365.20" y1="514.80" x2="365.20" y2="516.70" stroke="#333" stroke-width="0.55"/>
<line x1="366.05" y1="514.80" x2="366.05" y2="516.70" stroke="#333" stroke-width="0.55"/>
<line x1="371.77" y1="514.80" x2="371.77" y2="516.70" stroke="#333" stroke-width="0.55"/>
<line x1="374.67" y1="514.80" x2="374.67" y2="516.70" stroke="#333" stroke-width="0.55"/>
<line x1="376.73" y1="514.80" x2="376.73" y2="516.70" stroke="#333" stroke-width="0.55"/>
<line x1="378.33" y1="514.80" x2="378.33" y2="516.70" stroke="#333" stroke-width="0.55"/>
<line x1="379.64" y1="514.80" x2="379.64" y2="516.70" stroke="#333" stroke-width="0.55"/>
<line x1="380.74" y1="514.80" x2="380.74" y2="516.70" stroke="#333" stroke-width="0.55"/>
<line x1="381.70" y1="514.80" x2="381.70" y2="516.70" stroke="#333" stroke-width="0.55"/>
<line x1="382.55" y1="514.80" x2="382.55" y2="516.70" stroke="#333" stroke-width="0.55"/>
<line x1="387.97" y1="514.80" x2="387.97" y2="516.70" stroke="#333" stroke-width="0.55"/>
<line x1="390.87" y1="514.80" x2="390.87" y2="516.70" stroke="#333" stroke-width="0.55"/>
<line x1="392.93" y1="514.80" x2="392.93" y2="516.70" stroke="#333" stroke-width="0.55"/>
<line x1="394.53" y1="514.80" x2="394.53" y2="516.70" stroke="#333" stroke-width="0.55"/>
<line x1="372.30" y1="449.50" x2="395.10" y2="449.50" stroke="#222" stroke-width="1.1"/>
<line x1="372.30" y1="447.90" x2="372.30" y2="451.10" stroke="#222" stroke-width="0.8"/>
<text x="390.80" y="446.50" text-anchor="end" style="font-size:7px">11,4</text>
<path d="M422.60,514.40 L422.60,514.40 L423.00,514.40 L423.40,514.40 L423.80,514.40 L424.20,514.40 L424.60,514.40 L425.00,514.40 L425.40,514.40 L425.80,514.40 L426.20,514.40 L426.60,514.40 L427.00,514.40 L427.40,514.40 L427.80,514.40 L428.20,514.40 L428.60,514.40 L429.00,514.40 L429.40,514.40 L429.80,514.40 L430.20,514.40 L430.60,514.40 L431.00,514.40 L431.40,514.40 L431.80,514.40 L432.20,514.40 L432.60,514.40 L433.00,514.40 L433.40,514.40 L433.80,514.40 L434.20,514.40 L434.60,514.40 L435.00,514.40 L435.40,514.40 L435.80,514.40 L436.20,514.40 L436.60,514.40 L437.00,514.40 L437.40,514.40 L437.80,514.40 L438.20,514.40 L438.60,514.40 L439.00,514.40 L439.40,514.40 L439.80,514.40 L440.20,514.40 L440.60,514.40 L441.00,514.40 L441.40,514.40 L441.80,514.40 L442.20,514.40 L442.60,514.40 L443.00,514.40 L443.40,514.40 L443.80,514.40 L444.20,514.40 L444.60,514.40 L445.00,514.40 L445.40,514.40 L445.80,514.40 L446.20,514.40 L446.60,514.40 L447.00,514.40 L447.40,514.40 L447.80,514.40 L448.20,514.40 L448.60,514.40 L449.00,514.40 L449.40,514.40 L449.80,514.40 L450.20,514.40 L450.60,514.40 L451.00,514.40 L451.40,514.40 L451.80,514.40 L452.20,514.40 L452.60,514.36 L453.00,514.34 L453.40,514.32 L453.80,514.30 L454.20,514.27 L454.60,514.25 L455.00,514.22 L455.40,514.19 L455.80,514.16 L456.20,514.13 L456.60,514.10 L457.00,514.07 L457.40,514.05 L457.80,514.02 L458.20,513.99 L458.60,513.96 L459.00,513.94 L459.40,513.91 L459.80,513.89 L460.20,513.87 L460.60,513.85 L461.00,513.84 L461.40,513.82 L461.80,513.82 L462.20,513.81 L462.60,513.81 L463.00,513.81 L463.40,513.81 L463.80,513.81 L464.20,513.81 L464.60,513.81 L465.00,513.81 L465.40,513.81 L465.80,513.70 L466.20,511.27 L466.60,504.72 L467.00,496.66 L467.40,487.78 L467.80,478.45 L468.20,468.96 L468.60,459.56 L469.00,450.09 L469.20,445.20 L469.40,450.50 L469.80,460.55 L470.20,469.82 L470.60,478.27 L471.00,485.84 L471.40,492.46 L471.80,498.02 L472.20,502.36 L472.60,505.20 L473.00,505.76 L473.40,505.72 L473.80,505.67 L474.20,505.61 L474.60,505.54 L475.00,505.45 L475.40,505.34 L475.80,505.20 L476.20,505.04 L476.60,504.86 L477.00,504.64 L477.40,504.38 L477.80,504.09 L478.20,503.75 L478.60,503.38 L479.00,502.95 L479.40,502.49 L479.80,501.98 L480.20,501.42 L480.60,500.83 L481.00,500.23 L481.40,499.65 L481.80,499.10 L482.20,498.58 L482.60,498.09 L483.00,497.65 L483.40,497.26 L483.80,496.93 L484.20,496.66 L484.60,496.47 L485.00,496.36 L485.40,496.35 L485.80,496.42 L486.20,496.60 L486.60,496.88 L487.00,497.25 L487.40,497.79 L487.80,498.55 L488.20,499.51 L488.60,500.64 L489.00,501.90 L489.40,503.23 L489.80,504.61 L490.20,505.97 L490.60,507.29 L491.00,508.51 L491.40,509.62 L491.80,510.59 L492.20,511.41 L492.60,512.07 L493.00,512.60 L493.40,513.03 L493.80,513.38 L494.20,513.65 L494.60,513.86 L495.00,514.02 L495.40,514.14 L495.80,514.22 L496.20,514.28 L496.60,514.32 L497.00,514.35 L497.40,514.40 L497.80,514.40 L498.20,514.40 L498.60,514.40 L499.00,514.40 L499.40,514.40 L499.80,514.40 L500.20,514.40 L500.60,514.40 L500.90,514.40 Z" fill="#a2aacb" stroke="#6f7aae" stroke-width="0.7"/>
<rect x="422.60" y="436.60" width="78.30" height="78.40" fill="none" stroke="#222" stroke-width="1.05"/>
<line x1="419.80" y1="514.40" x2="422.60" y2="514.40" stroke="#333" stroke-width="0.8"/>
<text class="fx" x="416.40" y="516.40" text-anchor="end">0</text>
<line x1="419.80" y1="499.60" x2="422.60" y2="499.60" stroke="#333" stroke-width="0.8"/>
<text class="fx" x="416.40" y="501.60" text-anchor="end">20</text>
<line x1="419.80" y1="484.80" x2="422.60" y2="484.80" stroke="#333" stroke-width="0.8"/>
<text class="fx" x="416.40" y="486.80" text-anchor="end">40</text>
<line x1="419.80" y1="470.00" x2="422.60" y2="470.00" stroke="#333" stroke-width="0.8"/>
<text class="fx" x="416.40" y="472.00" text-anchor="end">60</text>
<line x1="419.80" y1="455.20" x2="422.60" y2="455.20" stroke="#333" stroke-width="0.8"/>
<text class="fx" x="416.40" y="457.20" text-anchor="end">80</text>
<line x1="419.80" y1="440.40" x2="422.60" y2="440.40" stroke="#333" stroke-width="0.8"/>
<text class="fx" x="416.40" y="442.40" text-anchor="end">100</text>
<line x1="421.30" y1="511.44" x2="423.10" y2="511.44" stroke="#222" stroke-width="0.8"/>
<line x1="421.30" y1="508.48" x2="423.10" y2="508.48" stroke="#222" stroke-width="0.8"/>
<line x1="421.30" y1="505.52" x2="423.10" y2="505.52" stroke="#222" stroke-width="0.8"/>
<line x1="421.30" y1="502.56" x2="423.10" y2="502.56" stroke="#222" stroke-width="0.8"/>
<line x1="421.30" y1="499.60" x2="423.10" y2="499.60" stroke="#222" stroke-width="0.8"/>
<line x1="421.30" y1="496.64" x2="423.10" y2="496.64" stroke="#222" stroke-width="0.8"/>
<line x1="421.30" y1="493.68" x2="423.10" y2="493.68" stroke="#222" stroke-width="0.8"/>
<line x1="421.30" y1="490.72" x2="423.10" y2="490.72" stroke="#222" stroke-width="0.8"/>
<line x1="421.30" y1="487.76" x2="423.10" y2="487.76" stroke="#222" stroke-width="0.8"/>
<line x1="421.30" y1="484.80" x2="423.10" y2="484.80" stroke="#222" stroke-width="0.8"/>
<line x1="421.30" y1="481.84" x2="423.10" y2="481.84" stroke="#222" stroke-width="0.8"/>
<line x1="421.30" y1="478.88" x2="423.10" y2="478.88" stroke="#222" stroke-width="0.8"/>
<line x1="421.30" y1="475.92" x2="423.10" y2="475.92" stroke="#222" stroke-width="0.8"/>
<line x1="421.30" y1="472.96" x2="423.10" y2="472.96" stroke="#222" stroke-width="0.8"/>
<line x1="421.30" y1="470.00" x2="423.10" y2="470.00" stroke="#222" stroke-width="0.8"/>
<line x1="421.30" y1="467.04" x2="423.10" y2="467.04" stroke="#222" stroke-width="0.8"/>
<line x1="421.30" y1="464.08" x2="423.10" y2="464.08" stroke="#222" stroke-width="0.8"/>
<line x1="421.30" y1="461.12" x2="423.10" y2="461.12" stroke="#222" stroke-width="0.8"/>
<line x1="421.30" y1="458.16" x2="423.10" y2="458.16" stroke="#222" stroke-width="0.8"/>
<line x1="421.30" y1="455.20" x2="423.10" y2="455.20" stroke="#222" stroke-width="0.8"/>
<line x1="421.30" y1="452.24" x2="423.10" y2="452.24" stroke="#222" stroke-width="0.8"/>
<line x1="421.30" y1="449.28" x2="423.10" y2="449.28" stroke="#222" stroke-width="0.8"/>
<line x1="421.30" y1="446.32" x2="423.10" y2="446.32" stroke="#222" stroke-width="0.8"/>
<line x1="421.30" y1="443.36" x2="423.10" y2="443.36" stroke="#222" stroke-width="0.8"/>
<line x1="421.30" y1="440.40" x2="423.10" y2="440.40" stroke="#222" stroke-width="0.8"/>
<line x1="423.00" y1="515.00" x2="423.00" y2="517.60" stroke="#333" stroke-width="0.8"/>
<text class="fx" x="423.80" y="525.20" text-anchor="middle">10<tspan dy="-2" style="font-size:3.4px">0</tspan></text>
<line x1="439.50" y1="515.00" x2="439.50" y2="517.60" stroke="#333" stroke-width="0.8"/>
<text class="fx" x="440.30" y="525.20" text-anchor="middle">10<tspan dy="-2" style="font-size:3.4px">1</tspan></text>
<line x1="456.10" y1="515.00" x2="456.10" y2="517.60" stroke="#333" stroke-width="0.8"/>
<text class="fx" x="456.90" y="525.20" text-anchor="middle">10<tspan dy="-2" style="font-size:3.4px">4</tspan></text>
<line x1="472.60" y1="515.00" x2="472.60" y2="517.60" stroke="#333" stroke-width="0.8"/>
<text class="fx" x="473.40" y="525.20" text-anchor="middle">10<tspan dy="-2" style="font-size:3.4px">5</tspan></text>
<line x1="488.80" y1="515.00" x2="488.80" y2="517.60" stroke="#333" stroke-width="0.8"/>
<text class="fx" x="489.60" y="525.20" text-anchor="middle">10<tspan dy="-2" style="font-size:3.4px">6</tspan></text>
<line x1="427.97" y1="515.00" x2="427.97" y2="516.90" stroke="#333" stroke-width="0.55"/>
<line x1="430.87" y1="515.00" x2="430.87" y2="516.90" stroke="#333" stroke-width="0.55"/>
<line x1="432.93" y1="515.00" x2="432.93" y2="516.90" stroke="#333" stroke-width="0.55"/>
<line x1="434.53" y1="515.00" x2="434.53" y2="516.90" stroke="#333" stroke-width="0.55"/>
<line x1="435.84" y1="515.00" x2="435.84" y2="516.90" stroke="#333" stroke-width="0.55"/>
<line x1="436.94" y1="515.00" x2="436.94" y2="516.90" stroke="#333" stroke-width="0.55"/>
<line x1="437.90" y1="515.00" x2="437.90" y2="516.90" stroke="#333" stroke-width="0.55"/>
<line x1="438.75" y1="515.00" x2="438.75" y2="516.90" stroke="#333" stroke-width="0.55"/>
<line x1="444.47" y1="515.00" x2="444.47" y2="516.90" stroke="#333" stroke-width="0.55"/>
<line x1="447.37" y1="515.00" x2="447.37" y2="516.90" stroke="#333" stroke-width="0.55"/>
<line x1="449.43" y1="515.00" x2="449.43" y2="516.90" stroke="#333" stroke-width="0.55"/>
<line x1="451.03" y1="515.00" x2="451.03" y2="516.90" stroke="#333" stroke-width="0.55"/>
<line x1="452.34" y1="515.00" x2="452.34" y2="516.90" stroke="#333" stroke-width="0.55"/>
<line x1="453.44" y1="515.00" x2="453.44" y2="516.90" stroke="#333" stroke-width="0.55"/>
<line x1="454.40" y1="515.00" x2="454.40" y2="516.90" stroke="#333" stroke-width="0.55"/>
<line x1="455.25" y1="515.00" x2="455.25" y2="516.90" stroke="#333" stroke-width="0.55"/>
<line x1="461.07" y1="515.00" x2="461.07" y2="516.90" stroke="#333" stroke-width="0.55"/>
<line x1="463.97" y1="515.00" x2="463.97" y2="516.90" stroke="#333" stroke-width="0.55"/>
<line x1="466.03" y1="515.00" x2="466.03" y2="516.90" stroke="#333" stroke-width="0.55"/>
<line x1="467.63" y1="515.00" x2="467.63" y2="516.90" stroke="#333" stroke-width="0.55"/>
<line x1="468.94" y1="515.00" x2="468.94" y2="516.90" stroke="#333" stroke-width="0.55"/>
<line x1="470.04" y1="515.00" x2="470.04" y2="516.90" stroke="#333" stroke-width="0.55"/>
<line x1="471.00" y1="515.00" x2="471.00" y2="516.90" stroke="#333" stroke-width="0.55"/>
<line x1="471.85" y1="515.00" x2="471.85" y2="516.90" stroke="#333" stroke-width="0.55"/>
<line x1="477.57" y1="515.00" x2="477.57" y2="516.90" stroke="#333" stroke-width="0.55"/>
<line x1="480.47" y1="515.00" x2="480.47" y2="516.90" stroke="#333" stroke-width="0.55"/>
<line x1="482.53" y1="515.00" x2="482.53" y2="516.90" stroke="#333" stroke-width="0.55"/>
<line x1="484.13" y1="515.00" x2="484.13" y2="516.90" stroke="#333" stroke-width="0.55"/>
<line x1="485.44" y1="515.00" x2="485.44" y2="516.90" stroke="#333" stroke-width="0.55"/>
<line x1="486.54" y1="515.00" x2="486.54" y2="516.90" stroke="#333" stroke-width="0.55"/>
<line x1="487.50" y1="515.00" x2="487.50" y2="516.90" stroke="#333" stroke-width="0.55"/>
<line x1="488.35" y1="515.00" x2="488.35" y2="516.90" stroke="#333" stroke-width="0.55"/>
<line x1="493.77" y1="515.00" x2="493.77" y2="516.90" stroke="#333" stroke-width="0.55"/>
<line x1="496.67" y1="515.00" x2="496.67" y2="516.90" stroke="#333" stroke-width="0.55"/>
<line x1="498.73" y1="515.00" x2="498.73" y2="516.90" stroke="#333" stroke-width="0.55"/>
<line x1="500.33" y1="515.00" x2="500.33" y2="516.90" stroke="#333" stroke-width="0.55"/>
<line x1="478.10" y1="449.20" x2="500.90" y2="449.20" stroke="#222" stroke-width="1.1"/>
<line x1="478.10" y1="447.60" x2="478.10" y2="450.80" stroke="#222" stroke-width="0.8"/>
<text x="496.60" y="446.20" text-anchor="end" style="font-size:7px">41,8</text>
<text transform="translate(506,375.4) rotate(90)" text-anchor="middle" style="font-size:9.5px">proliferating</text>
<text transform="translate(505.5,475.5) rotate(90)" text-anchor="middle" style="font-size:9.5px">differentiated</text>
<path d="M297.7,496 V533.5 H340" fill="none" stroke="#222" stroke-width="1.1"/>
<polygon points="297.7,492.6 295,498.5 300.4,498.5" fill="#222"/>
<polygon points="343.2,533.5 337.3,530.8 337.3,536.2" fill="#222"/>
<text transform="translate(293.3,512.7) rotate(-90)" text-anchor="middle" style="font-size:10.5px;stroke:#333;stroke-width:0.22px" textLength="10" lengthAdjust="spacingAndGlyphs">AU</text>
<text x="320.4" y="544.6" text-anchor="middle" style="font-size:9.4px;stroke:#333;stroke-width:0.15px" textLength="14.7" lengthAdjust="spacingAndGlyphs">HbF</text>
</g>
</svg>
</div></body></html>
